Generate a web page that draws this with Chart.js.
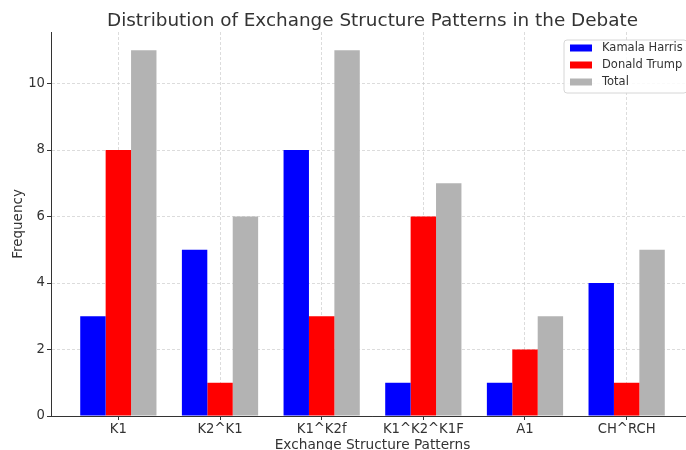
<!DOCTYPE html>
<html>
<head>
<meta charset="utf-8">
<script src="https://cdn.jsdelivr.net/npm/chart.js@4"></script>
<style>
html,body{margin:0;padding:0;background:#fff;overflow:hidden;width:686px;height:450px;}
#wrap{position:absolute;left:0;top:0;width:700px;height:450px;}
</style>
</head>
<body>
<div id="wrap"><canvas id="c" width="700" height="450"></canvas></div>
<script>
const categories = ['K1', 'K2^K1', 'K1^K2f', 'K1^K2^K1F', 'A1', 'CH^RCH'];
const harris = [3, 5, 8, 1, 1, 4];
const trump = [8, 1, 3, 6, 2, 1];
const total = [11, 6, 11, 7, 3, 5];
const yTicks = [0, 2, 4, 6, 8, 10];
const seriesNames = ['Kamala Harris', 'Donald Trump', 'Total'];

const FONT = 'DejaVu Sans';
const TXT = '#333333';

function pts(arr) { return arr.map((v, i) => ({ x: i, y: v })); }

const legendPlugin = {
  id: 'innerLegend',
  afterDraw(chart) {
    const ctx = chart.ctx, ca = chart.chartArea;
    const ds = chart.data.datasets;
    const w = 123, h = 53;
    const x0 = ca.right - 7 - w, y0 = ca.top + 8;
    ctx.save();
    ctx.beginPath();
    const r = 3;
    ctx.moveTo(x0 + r, y0);
    ctx.lineTo(x0 + w - r, y0); ctx.quadraticCurveTo(x0 + w, y0, x0 + w, y0 + r);
    ctx.lineTo(x0 + w, y0 + h - r); ctx.quadraticCurveTo(x0 + w, y0 + h, x0 + w - r, y0 + h);
    ctx.lineTo(x0 + r, y0 + h); ctx.quadraticCurveTo(x0, y0 + h, x0, y0 + h - r);
    ctx.lineTo(x0, y0 + r); ctx.quadraticCurveTo(x0, y0, x0 + r, y0);
    ctx.closePath();
    ctx.fillStyle = 'rgba(255,255,255,0.85)';
    ctx.fill();
    ctx.strokeStyle = '#d6d6d6';
    ctx.lineWidth = 1;
    ctx.stroke();
    ctx.font = '11.5px "' + FONT + '"';
    ctx.textBaseline = 'middle';
    ctx.textAlign = 'left';
    ds.forEach((d, i) => {
      const cy = y0 + 8 + i * 17;
      ctx.fillStyle = d.backgroundColor;
      ctx.fillRect(x0 + 6, cy - 3.5, 22, 7);
      ctx.fillStyle = TXT;
      ctx.fillText(d.label, x0 + 38, cy);
    });
    ctx.restore();
  }
};

const gridCommon = {
  color: 'rgba(200,200,200,0.8)',
  lineWidth: 0.8,
  tickColor: '#333333',
  tickLength: 4,
  tickWidth: 1,
  tickBorderDash: [],
  offset: false
};
const borderCommon = { display: true, color: '#333333', width: 1, dash: [3, 2] };

new Chart(document.getElementById('c'), {
  type: 'bar',
  data: {
    datasets: [
      { label: seriesNames[0], data: pts(harris), backgroundColor: '#0000ff', borderWidth: 0 },
      { label: seriesNames[1], data: pts(trump), backgroundColor: '#ff0000', borderWidth: 0 },
      { label: seriesNames[2], data: pts(total), backgroundColor: '#b3b3b3', borderWidth: 0 }
    ]
  },
  options: {
    responsive: false,
    animation: false,
    devicePixelRatio: 1,
    categoryPercentage: 0.75,
    barPercentage: 1.0,
    layout: { padding: { left: 0, right: 6, top: 0, bottom: 0 } },
    plugins: {
      legend: { display: false },
      tooltip: { enabled: false },
      title: {
        display: true,
        fullSize: false,
        text: 'Distribution of Exchange Structure Patterns in the Debate',
        color: TXT,
        font: { family: FONT, size: 18.4, weight: 'normal', lineHeight: '20px' },
        padding: { top: 11, bottom: 1 }
      }
    },
    scales: {
      x: {
        type: 'linear',
        min: -0.6625,
        max: 5.6625,
        offset: false,
        z: 1,
        afterBuildTicks(scale) { scale.ticks = categories.map((c, i) => ({ value: i })); },
        afterFit(scale) { scale.height = 34; },
        ticks: {
          autoSkip: false, maxRotation: 0, minRotation: 0, includeBounds: false,
          padding: 2, color: TXT,
          font: { family: FONT, size: 13.2 },
          callback: (v) => categories[v]
        },
        grid: gridCommon,
        border: borderCommon,
        title: {
          display: true, text: 'Exchange Structure Patterns', color: TXT,
          font: { family: FONT, size: 13.7, lineHeight: '14px' },
          padding: { top: 0, bottom: -2 }
        }
      },
      y: {
        min: 0,
        max: 11.55,
        z: 1,
        afterBuildTicks(scale) { scale.ticks = yTicks.map(v => ({ value: v })); },
        afterFit(scale) { scale.width = 51; },
        ticks: {
          includeBounds: false, padding: 2, color: TXT,
          font: { family: FONT, size: 13.2 }
        },
        grid: gridCommon,
        border: borderCommon,
        title: {
          display: true, text: 'Frequency', color: TXT,
          font: { family: FONT, size: 13.5, lineHeight: 1.2 },
          padding: { top: 10, bottom: 0 }
        }
      }
    }
  },
  plugins: [legendPlugin]
});
</script>
</body>
</html>
